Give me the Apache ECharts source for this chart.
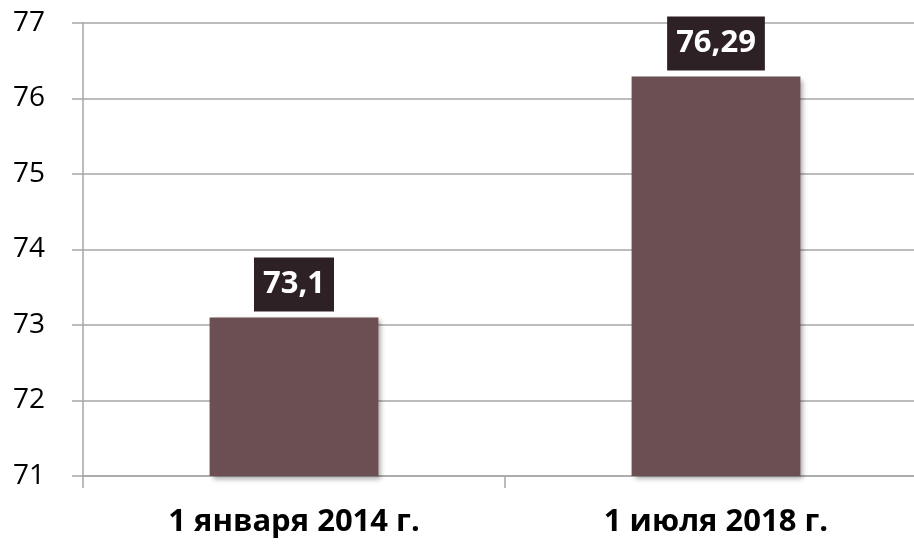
<!DOCTYPE html>
<html><head><meta charset="utf-8">
<script src="https://cdn.jsdelivr.net/npm/echarts@6/dist/echarts.min.js"></script>
<style>html,body{margin:0;padding:0;background:#fff}#c{width:914px;height:545px}</style>
</head><body><div id="c"></div>
<script>
const categories = ['1 января 2014 г.', '1 июля 2018 г.'];
const values = [73.1, 76.29];
const valueLabels = ['73,1', '76,29'];
const yTicks = [71, 72, 73, 74, 75, 76, 77];

const chart = echarts.init(document.getElementById('c'));
chart.setOption({
  animation: false,
  grid: {left: 83, width: 844, top: 23, bottom: 69, containLabel: false, outerBoundsMode: 'none'},
  xAxis: {
    type: 'category', data: categories,
    axisLine: {show: true, lineStyle: {color: '#A6A6A6', width: 1.5}},
    axisTick: {show: true, length: 12, lineStyle: {color: '#A6A6A6', width: 1.5}},
    axisLabel: {margin: 31, fontFamily: 'Open Sans', fontWeight: 'bold', fontSize: 31, color: '#000'}
  },
  yAxis: {
    type: 'value', min: yTicks[0], max: yTicks[yTicks.length - 1], interval: 1,
    axisLine: {show: true, lineStyle: {color: '#A6A6A6', width: 1.5}},
    axisTick: {show: true, length: 11, lineStyle: {color: '#A6A6A6', width: 1.5}},
    splitLine: {show: true, lineStyle: {color: '#A6A6A6', width: 1.5}},
    axisLabel: {margin: 38, fontFamily: 'Open Sans', fontSize: 28, color: '#000'}
  },
  series: [{
    type: 'bar', data: values, barWidth: '40%',
    itemStyle: {color: '#6B4F52', shadowBlur: 5, shadowOffsetX: 3, shadowOffsetY: 3, shadowColor: 'rgba(0,0,0,0.35)'},
    label: {
      show: true, position: 'top', distance: 6,
      formatter: p => valueLabels[p.dataIndex],
      backgroundColor: '#2E2125', color: '#fff',
      fontFamily: 'Open Sans', fontWeight: 'bold', fontSize: 31, lineHeight: 38,
      padding: [8, 9, 8, 9]
    }
  }]
});
</script></body></html>
